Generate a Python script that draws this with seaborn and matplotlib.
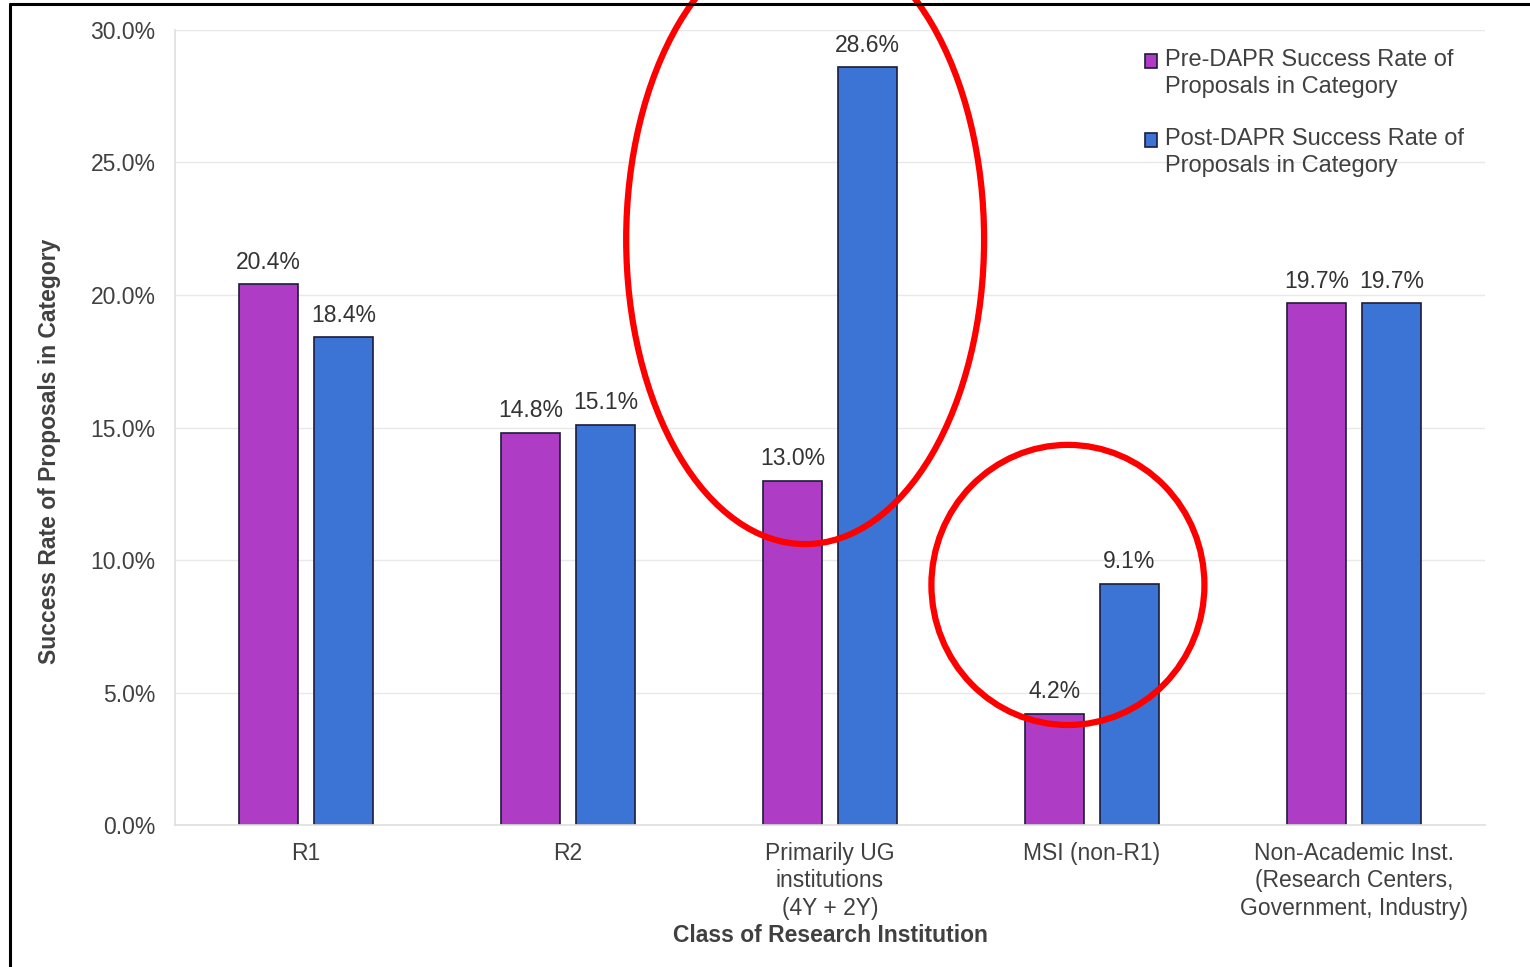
import matplotlib
matplotlib.use('Agg')
import matplotlib.pyplot as plt
from matplotlib.patches import Ellipse, Rectangle
from matplotlib.lines import Line2D
from matplotlib.legend_handler import HandlerPatch
import seaborn as sns
import pandas as pd

categories = ['R1', 'R2', 'Primarily UG\ninstitutions\n(4Y + 2Y)', 'MSI (non-R1)',
              'Non-Academic Inst.\n(Research Centers,\nGovernment, Industry)']
pre_dapr = [20.4, 14.8, 13.0, 4.2, 19.7]
post_dapr = [18.4, 15.1, 28.6, 9.1, 19.7]
series_names = ['Pre-DAPR Success Rate of\nProposals in Category',
                'Post-DAPR Success Rate of\nProposals in Category']
yticks = [0, 5, 10, 15, 20, 25, 30]

sns.set_theme(style='white')
plt.rcParams['font.family'] = ['Liberation Sans', 'DejaVu Sans']

df = pd.DataFrame({
    'category': categories * 2,
    'rate': pre_dapr + post_dapr,
    'series': [series_names[0]] * 5 + [series_names[1]] * 5,
})

fig = plt.figure(figsize=(15.3, 9.67), dpi=100)
ax = fig.add_axes([0.1144, 0.1468, 0.8562, 0.8222])

sns.barplot(data=df, x='category', y='rate', hue='series', ax=ax,
            palette=['#AE3CC4', '#3B74D4'], width=0.573, gap=0.21,
            edgecolor='#1c1c3c', linewidth=1.2, saturation=1)

for cont in ax.containers:
    ax.bar_label(cont, fmt='%.1f%%', padding=7.5, fontsize=16.5, color='#333333')

ax.set_ylim(0, 30)
ax.set_xlim(-0.5, 4.5)
ax.set_yticks(yticks)
ax.set_yticklabels([f'{v:.1f}%' for v in yticks])
ax.tick_params(axis='both', length=0, labelsize=16.5, labelcolor='#404040')
ax.tick_params(axis='y', pad=14)
ax.tick_params(axis='x', pad=12)
for lbl in ax.get_xticklabels():
    lbl.set_linespacing(1.25)
ax.yaxis.grid(True, color='#e8e8e8', linewidth=1)
ax.set_axisbelow(True)
for s in ['top', 'right']:
    ax.spines[s].set_visible(False)
ax.spines['left'].set_color('#e0e0e0')
ax.spines['bottom'].set_color('#e0e0e0')

ax.set_xlabel('Class of Research Institution', fontsize=16.5, fontweight='bold',
              color='#404040', labelpad=3)
ax.set_ylabel('Success Rate of Proposals in Category', fontsize=16.5, fontweight='bold',
              color='#404040')
ax.yaxis.set_label_coords(-0.087, 0.47)


def top_square(legend, orig_handle, xdescent, ydescent, width, height, fontsize):
    # put the marker next to the first line of a two-line label
    return Rectangle((-xdescent, -ydescent + 0.55 * fontsize), width, height)


handles, labels = ax.get_legend_handles_labels()
ax.legend(handles, labels, loc='upper left', bbox_to_anchor=(0.7422, 0.959),
          bbox_transform=fig.transFigure, frameon=False, fontsize=17,
          handlelength=0.5, handleheight=0.5, handletextpad=0.35,
          labelspacing=1.27, borderaxespad=0, labelcolor='#404040',
          handler_map={h: HandlerPatch(patch_func=top_square) for h in handles})
for t in ax.get_legend().get_texts():
    t.set_linespacing(1.3)

# red highlight ellipses
ax.add_patch(Ellipse((1.905, 22.1), 1.366, 23.0, fill=False, edgecolor='#ff0000',
                     linewidth=4.5, clip_on=False, zorder=10))
ax.add_patch(Ellipse((2.908, 9.06), 1.042, 10.57, fill=False, edgecolor='#ff0000',
                     linewidth=4.5, clip_on=False, zorder=10))

# black frame lines at top and left
fig.add_artist(Line2D([0.0068, 1.0], [0.9955, 0.9955], color='black', linewidth=2.2,
                      transform=fig.transFigure))
fig.add_artist(Line2D([0.0068, 0.0068], [0.0, 0.9955], color='black', linewidth=2.2,
                      transform=fig.transFigure))

plt.savefig('out.png', dpi=100)
